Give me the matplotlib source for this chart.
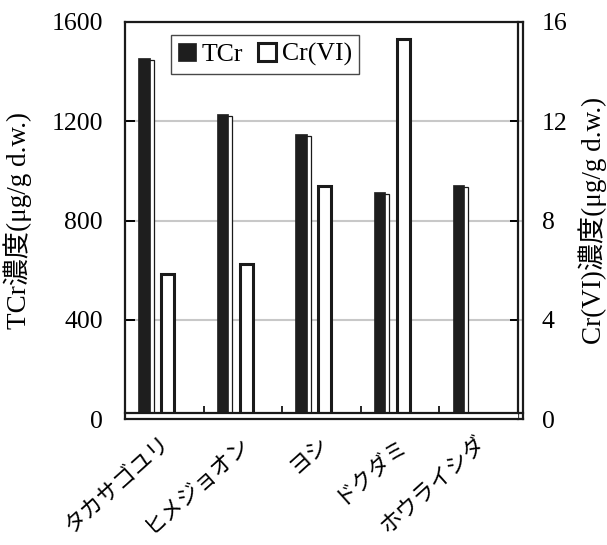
import matplotlib
matplotlib.use("Agg")
import matplotlib.pyplot as plt
import matplotlib.transforms as mtransforms
import numpy as np

# data
plants = ["タカサゴユリ", "ヒメジョオン", "ヨシ", "ドクダミ", "ホウライシダ"]
tcr = [1455, 1230, 1150, 915, 945]       # ug/g d.w., left axis
cr6 = [5.85, 6.25, 9.4, 15.3, 0.0]       # ug/g d.w., right axis

serif_jp = ["Liberation Serif", "Noto Sans CJK JP"]
plt.rcParams["font.family"] = serif_jp

fig = plt.figure(figsize=(6.07, 5.45), dpi=100)
W, H = 607, 545
x0, x1, ytop, ybot = 125, 523, 22, 419
ax = fig.add_axes([x0 / W, 1 - ybot / H, (x1 - x0) / W, (ybot - ytop) / H])
ax2 = ax.twinx()
# primary axes drawn on top, secondary underneath
ax.set_zorder(ax2.get_zorder() + 1)
ax.patch.set_visible(False)

x = np.arange(len(plants))
inner = 5 / 398  # gap between inner axis lines and outer frame
ax.set_xlim(-0.5, 4.5 + 5 * inner / (1 - inner))
ax.set_ylim(0, 1600)
ax2.set_ylim(0, 16)

# grid behind everything
ax2.set_yticks([0, 4, 8, 12, 16])
ax2.grid(axis="y", color="#c8c8c8", lw=1.5, zorder=0)
ax2.set_axisbelow(True)

# Cr(VI) on secondary axis
ax2.bar(x + 0.04, cr6, width=0.166, color="white", edgecolor="#1a1a1a",
        lw=2.2, zorder=2, label="Cr(VI)")

# TCr with a thin outlined shadow
shift = mtransforms.ScaledTranslation(0.04, -0.025, fig.dpi_scale_trans)
shadow = ax.bar(x - 0.26, tcr, width=0.145, color="white",
                edgecolor="#1a1a1a", lw=0.9, zorder=1.5)
for p in shadow:
    p.set_transform(ax.transData + shift)
ax.bar(x - 0.26, tcr, width=0.145, color="#1e1e1e", edgecolor="#1e1e1e",
       lw=0.5, zorder=2, label="TCr")

# white band between inner x-axis line and outer frame
band = plt.Rectangle((0.0, -0.002), 1 - inner - 0.002, 6 / 397,
                     transform=ax.transAxes, color="white", zorder=2.3)
ax.add_patch(band)

# axis lines
for s in ax.spines.values():
    s.set_linewidth(1.6)
    s.set_color("#1a1a1a")
ax.spines["bottom"].set_position(("axes", 6 / 397))
ax.plot([0, 1], [0, 0], transform=ax.transAxes, color="#1a1a1a", lw=1.6,
        clip_on=False, zorder=3)
for s in ["left", "top", "bottom"]:
    ax2.spines[s].set_visible(False)
ax2.spines["right"].set_position(("axes", 1 - inner))
ax2.spines["right"].set_linewidth(1.6)
ax2.spines["right"].set_color("#1a1a1a")

# ticks
ax.set_yticks([0, 400, 800, 1200, 1600])
ax.tick_params(axis="y", direction="in", length=7, width=1.4, pad=16,
               labelsize=18.5)
ax2.tick_params(axis="y", direction="in", length=6, width=1.4, pad=17,
                labelsize=18.5)
ax.set_xticks(x + 0.04)
ax.set_xticklabels(plants, rotation=42, ha="right", va="center",
                   rotation_mode="anchor", fontsize=16,
                   family=["Noto Sans CJK JP"])
ax.set_xticks(x[:-1] + 0.5, minor=True)
ax.tick_params(axis="x", which="major", length=0, pad=19)
ax.tick_params(axis="x", which="minor", direction="in", length=5, width=1.2)

ax.set_ylabel("TCr濃度(μg/g d.w.)", fontsize=19.5, labelpad=14)
ax2.set_ylabel("Cr(VI)濃度(μg/g d.w.)", fontsize=19.5, labelpad=8)

# legend
h1, l1 = ax.get_legend_handles_labels()
h2, l2 = ax2.get_legend_handles_labels()
leg = ax.legend(h1 + h2, l1 + l2, loc="upper center",
                bbox_to_anchor=(0.352, 0.967), ncol=2, fontsize=18.5,
                frameon=True, fancybox=False, handlelength=0.7,
                handleheight=0.7, handletextpad=0.2, columnspacing=0.6,
                borderpad=0.3, borderaxespad=0)
leg.get_frame().set_edgecolor("#1a1a1a")
leg.get_frame().set_linewidth(1.0)

fig.savefig("out.png", dpi=100)
